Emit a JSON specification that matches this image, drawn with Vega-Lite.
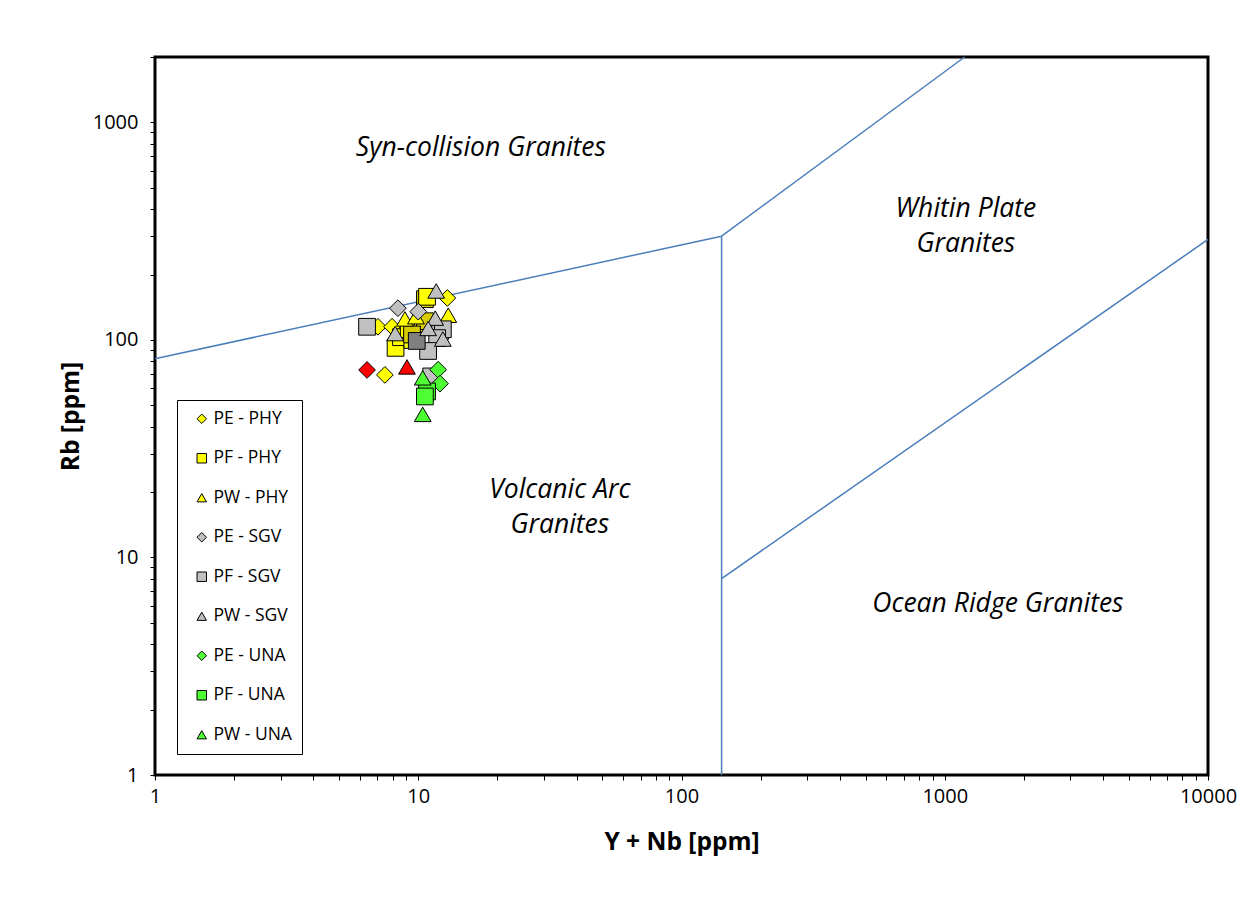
{
  "$schema": "https://vega.github.io/schema/vega-lite/v6.json",
  "width": 1053,
  "height": 718,
  "autosize": "none",
  "padding": {"left": 155, "top": 57, "right": 48, "bottom": 134},
  "background": "white",
  "config": {
    "view": {"stroke": "black", "strokeWidth": 3},
    "font": "Open Sans"
  },
  "datasets": {
    "lines": [
      {"x": 1, "y": 82, "x2": 142, "y2": 300},
      {"x": 142, "y": 300, "x2": 1190, "y2": 2000},
      {"x": 142, "y": 300, "x2": 142, "y2": 1},
      {"x": 142, "y": 8, "x2": 10000, "y2": 290}
    ],
    "labels": [
      {"x": 17.3, "y": 760, "t": ["Syn-collision Granites"]},
      {"x": 1203, "y": 399, "t": ["Whitin Plate", "Granites"]},
      {"x": 34.5, "y": 20.5, "t": ["Volcanic Arc", "Granites"]},
      {"x": 1592, "y": 6.09, "t": ["Ocean Ridge Granites"]}
    ],
    "pts": [
      {"x": 6.39, "y": 72.8, "s": "PE - RED"},
      {"x": 9.06, "y": 75.2, "s": "PW - RED"},
      {"x": 7.03, "y": 115, "s": "PE - PHY"},
      {"x": 7.95, "y": 115, "s": "PE - PHY"},
      {"x": 7.47, "y": 69.1, "s": "PE - PHY"},
      {"x": 12.9, "y": 156, "s": "PE - PHY"},
      {"x": 8.2, "y": 92, "s": "PF - PHY"},
      {"x": 8.6, "y": 103, "s": "PF - PHY"},
      {"x": 9.2, "y": 112, "s": "PF - PHY"},
      {"x": 10.4, "y": 119, "s": "PF - PHY"},
      {"x": 9.5, "y": 100, "s": "PF - PHY"},
      {"x": 10.6, "y": 154, "s": "PF - PHY2"},
      {"x": 10.6, "y": 122, "s": "PF - PHY2"},
      {"x": 9.47, "y": 106, "s": "PF - PHY2"},
      {"x": 10.8, "y": 158, "s": "PF - PHY"},
      {"x": 8.9, "y": 125, "s": "PW - PHY"},
      {"x": 9.8, "y": 128, "s": "PW - PHY"},
      {"x": 13.0, "y": 130, "s": "PW - PHY"},
      {"x": 8.37, "y": 140, "s": "PE - SGV"},
      {"x": 10.0, "y": 135, "s": "PE - SGV"},
      {"x": 6.39, "y": 115, "s": "PF - SGV"},
      {"x": 12.1, "y": 110, "s": "PF - SGV"},
      {"x": 12.4, "y": 112, "s": "PF - SGV"},
      {"x": 11.8, "y": 102, "s": "PF - SGV"},
      {"x": 10.9, "y": 89, "s": "PF - SGV"},
      {"x": 11.2, "y": 68, "s": "PF - SGV"},
      {"x": 9.87, "y": 99, "s": "PF - SGV2"},
      {"x": 8.17, "y": 107, "s": "PW - SGV"},
      {"x": 11.7, "y": 168, "s": "PW - SGV"},
      {"x": 11.6, "y": 126, "s": "PW - SGV"},
      {"x": 10.9, "y": 113, "s": "PW - SGV"},
      {"x": 12.4, "y": 101, "s": "PW - SGV"},
      {"x": 11.9, "y": 73, "s": "PE - UNA"},
      {"x": 12.1, "y": 63, "s": "PE - UNA"},
      {"x": 10.8, "y": 58, "s": "PF - UNA"},
      {"x": 10.6, "y": 55, "s": "PF - UNA"},
      {"x": 10.4, "y": 67, "s": "PW - UNA"},
      {"x": 10.4, "y": 45.5, "s": "PW - UNA"}
    ]
  },
  "layer": [
    {
      "data": {"name": "lines"},
      "mark": {"type": "rule", "color": "#4a7ebb", "strokeWidth": 1.5},
      "encoding": {
        "x": {
          "field": "x", "type": "quantitative",
          "scale": {"type": "log", "domain": [1, 10000], "nice": false},
          "axis": {
            "title": "Y + Nb [ppm]",
            "titleFontSize": 24.5, "titleFontWeight": "bold", "titleColor": "black", "titlePadding": 24,
            "labelFontSize": 20, "labelColor": "black", "labelPadding": 6,
            "values": [1,2,3,4,5,6,7,8,9,10,20,30,40,50,60,70,80,90,100,200,300,400,500,600,700,800,900,1000,2000,3000,4000,5000,6000,7000,8000,9000,10000],
            "labelExpr": "indexof(['1','10','100','1000','10000'], format(datum.value, 'd')) >= 0 ? format(datum.value, 'd') : ''",
            "labelFlush": false, "labelOverlap": false,
            "domain": false, "grid": false, "tickColor": "black", "tickSize": 5, "tickWidth": 1
          }
        },
        "x2": {"field": "x2"},
        "y": {
          "field": "y", "type": "quantitative",
          "scale": {"type": "log", "domain": [1, 2000], "nice": false},
          "axis": {
            "title": "Rb [ppm]",
            "titleFontSize": 24.5, "titleFontWeight": "bold", "titleColor": "black", "titlePadding": 9,
            "labelFontSize": 20, "labelColor": "black", "labelPadding": 12,
            "values": [1,2,3,4,5,6,7,8,9,10,20,30,40,50,60,70,80,90,100,200,300,400,500,600,700,800,900,1000,2000],
            "labelExpr": "indexof(['1','10','100','1000'], format(datum.value, 'd')) >= 0 ? format(datum.value, 'd') : ''",
            "labelFlush": false, "labelOverlap": false,
            "domain": false, "grid": false, "tickColor": "black", "tickSize": 5, "tickWidth": 1
          }
        },
        "y2": {"field": "y2"}
      }
    },
    {
      "data": {"name": "labels"},
      "mark": {"type": "text", "fontSize": 26.5, "fontStyle": "italic", "font": "Open Sans", "color": "black", "lineHeight": 35, "baseline": "middle"},
      "encoding": {
        "x": {"field": "x", "type": "quantitative"},
        "y": {"field": "y", "type": "quantitative"},
        "text": {"field": "t"}
      }
    },
    {
      "data": {"name": "pts"},
      "mark": {"type": "point", "filled": true, "stroke": "black", "strokeWidth": 1, "size": 280, "opacity": 1},
      "encoding": {
        "x": {"field": "x", "type": "quantitative"},
        "y": {"field": "y", "type": "quantitative"},
        "color": {
          "field": "s", "type": "nominal",
          "scale": {
            "domain": ["PE - PHY","PF - PHY","PW - PHY","PE - SGV","PF - SGV","PW - SGV","PE - UNA","PF - UNA","PW - UNA","PE - RED","PW - RED","PF - PHY2","PF - SGV2"],
            "range": ["#ffff00","#ffff00","#ffff00","#c0c0c0","#c0c0c0","#c0c0c0","#4dff33","#4dff33","#4dff33","#ff0000","#ff0000","#d6cc00","#808080"]
          },
          "legend": {
            "values": ["PE - PHY","PF - PHY","PW - PHY","PE - SGV","PF - SGV","PW - SGV","PE - UNA","PF - UNA","PW - UNA"],
            "title": null, "orient": "none", "legendX": 22, "legendY": 343,
            "strokeColor": "black", "fillColor": "white", "padding": 10,
            "labelFontSize": 17.5, "labelColor": "black", "labelFont": "Open Sans",
            "symbolSize": 90, "symbolStrokeColor": "black", "symbolStrokeWidth": 1,
            "rowPadding": 20.5, "symbolOffset": 6, "labelOffset": 3, "labelLimit": 200
          }
        },
        "shape": {
          "field": "s", "type": "nominal",
          "scale": {
            "domain": ["PE - PHY","PF - PHY","PW - PHY","PE - SGV","PF - SGV","PW - SGV","PE - UNA","PF - UNA","PW - UNA","PE - RED","PW - RED","PF - PHY2","PF - SGV2"],
            "range": ["diamond","square","triangle-up","diamond","square","triangle-up","diamond","square","triangle-up","diamond","triangle-up","square","square"]
          },
          "legend": {
            "values": ["PE - PHY","PF - PHY","PW - PHY","PE - SGV","PF - SGV","PW - SGV","PE - UNA","PF - UNA","PW - UNA"],
            "title": null, "orient": "none", "legendX": 22, "legendY": 343,
            "strokeColor": "black", "fillColor": "white", "padding": 10,
            "labelFontSize": 17.5, "labelColor": "black", "labelFont": "Open Sans",
            "symbolSize": 90, "symbolStrokeColor": "black", "symbolStrokeWidth": 1,
            "rowPadding": 20.5, "symbolOffset": 6, "labelOffset": 3, "labelLimit": 200
          }
        }
      }
    }
  ]
}
